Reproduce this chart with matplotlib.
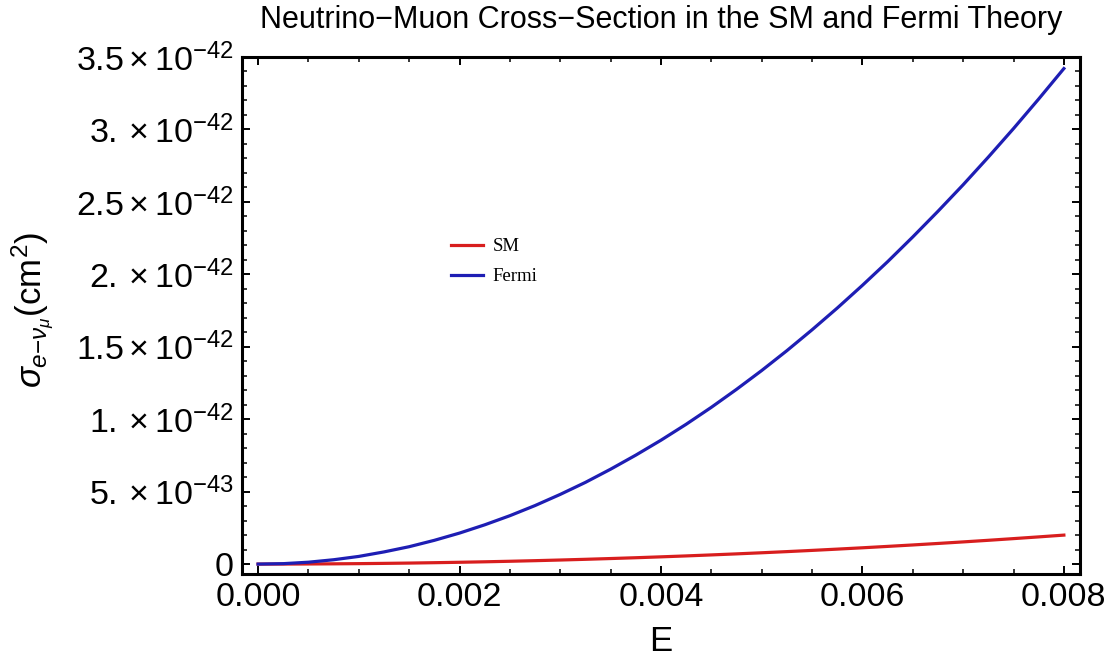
import numpy as np
import matplotlib
matplotlib.use("Agg")
import matplotlib.pyplot as plt
from matplotlib.ticker import FixedLocator, FixedFormatter, MultipleLocator

plt.rcParams["font.family"] = ["Liberation Sans", "DejaVu Sans"]
plt.rcParams["mathtext.fontset"] = "custom"
plt.rcParams["mathtext.rm"] = "Liberation Sans"
plt.rcParams["mathtext.it"] = "Liberation Sans:italic"
plt.rcParams["mathtext.bf"] = "Liberation Sans:bold"

# energy grid
energy = [0.0, 0.00025, 0.0005, 0.00075, 0.001, 0.00125, 0.0015, 0.00175,
          0.002, 0.00225, 0.0025, 0.00275, 0.003, 0.00325, 0.0035, 0.00375,
          0.004, 0.00425, 0.0045, 0.00475, 0.005, 0.00525, 0.0055, 0.00575,
          0.006, 0.00625, 0.0065, 0.00675, 0.007, 0.00725, 0.0075, 0.00775, 0.008]
# cross sections in units of 1e-42 cm^2
sigma_fermi = [0.0, 0.003, 0.013, 0.030, 0.053, 0.084, 0.120, 0.164,
               0.214, 0.271, 0.334, 0.404, 0.481, 0.564, 0.655, 0.752,
               0.855, 0.965, 1.082, 1.206, 1.336, 1.473, 1.617, 1.767,
               1.924, 2.087, 2.258, 2.435, 2.618, 2.809, 3.006, 3.210, 3.420]
sigma_sm = [0.0, 0.0002, 0.0008, 0.0018, 0.0031, 0.0049, 0.0070, 0.0096,
            0.0125, 0.0158, 0.0195, 0.0236, 0.0281, 0.0330, 0.0383, 0.0439,
            0.0500, 0.0564, 0.0633, 0.0705, 0.0781, 0.0861, 0.0945, 0.1033,
            0.1125, 0.1221, 0.1320, 0.1424, 0.1531, 0.1642, 0.1758, 0.1877, 0.2000]

ytick_vals = [0, 0.5e-42, 1.0e-42, 1.5e-42, 2.0e-42, 2.5e-42, 3.0e-42, 3.5e-42]
ytick_labels = ["0", r"$5.\times10^{-43}$", r"$1.\times10^{-42}$", r"$1.5\times10^{-42}$",
                r"$2.\times10^{-42}$", r"$2.5\times10^{-42}$", r"$3.\times10^{-42}$",
                r"$3.5\times10^{-42}$"]
xtick_vals = [0.0, 0.002, 0.004, 0.006, 0.008]
xtick_labels = ["0.000", "0.002", "0.004", "0.006", "0.008"]

E = np.array(energy)
sm = np.array(sigma_sm) * 1e-42
fermi = np.array(sigma_fermi) * 1e-42

fig = plt.figure(figsize=(11.15, 6.64), dpi=100)
ax = fig.add_axes([0.217, 0.1355, 0.7516, 0.7787])

ax.plot(E, sm, color="#d81e1e", lw=2.3, label="SM", solid_joinstyle="round")
ax.plot(E, fermi, color="#1e1eb4", lw=2.3, label="Fermi", solid_joinstyle="round")

ax.set_xlim(-0.00016, 0.00816)
ax.set_ylim(-0.0686e-42, 3.50e-42)

ax.xaxis.set_major_locator(FixedLocator(xtick_vals))
ax.xaxis.set_major_formatter(FixedFormatter(xtick_labels))
ax.xaxis.set_minor_locator(MultipleLocator(0.0005))
ax.yaxis.set_major_locator(FixedLocator(ytick_vals))
ax.yaxis.set_major_formatter(FixedFormatter(ytick_labels))
ax.yaxis.set_minor_locator(MultipleLocator(1e-43))

ax.tick_params(which="both", direction="in", top=True, right=True, colors="black")
ax.tick_params(which="major", length=6, width=1.4, labelsize=24.5, pad=6)
ax.tick_params(which="minor", length=3.5, width=1.1)
for s in ax.spines.values():
    s.set_linewidth(2.2)

ax.set_xlabel("E", fontsize=25)
ax.xaxis.set_label_coords(0.5, -0.098)
ax.set_ylabel(r"$\sigma_{e\mathrm{-}\nu_\mu}(\mathrm{cm}^2)$", fontsize=25)
ax.yaxis.set_label_coords(-0.222, 0.51)
ax.set_title("Neutrino\u2212Muon Cross\u2212Section in the SM and Fermi Theory",
             fontsize=22, pad=21)

ax.legend(loc="upper left", bbox_to_anchor=(0.25, 0.65), frameon=False,
          borderpad=0, borderaxespad=0,
          prop={"family": "Liberation Serif", "size": 13.5}, handlelength=1.7,
          handletextpad=0.5, labelspacing=0.7)

fig.savefig("out.png", dpi=100)
